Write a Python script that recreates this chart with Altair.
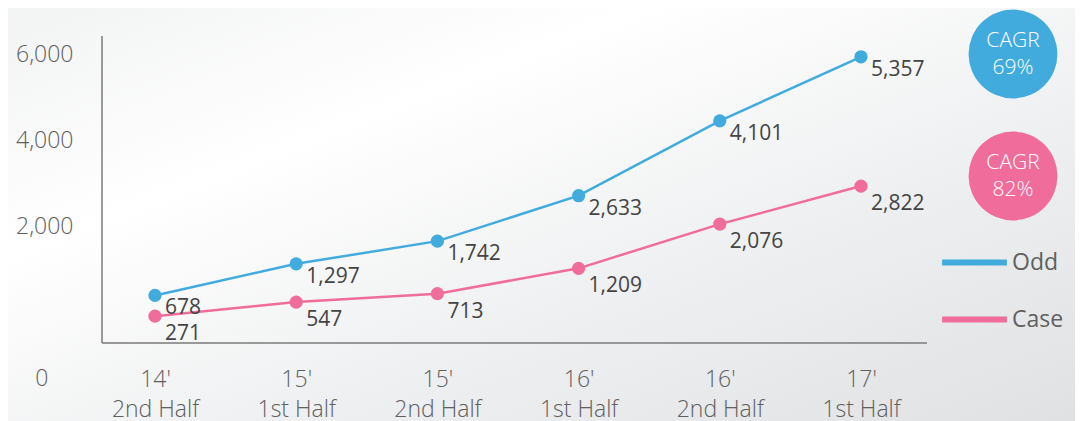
import altair as alt
import pandas as pd

# ---- data ----
periods = ["14'|2nd Half", "15'|1st Half", "15'|2nd Half", "16'|1st Half", "16'|2nd Half", "17'|1st Half"]
odd = [678, 1297, 1742, 2633, 4101, 5357]
case = [271, 547, 713, 1209, 2076, 2822]
series_names = ["Odd", "Case"]
series_colors = ["#42abdd", "#f06c9a"]
cagr_text = ["69%", "82%"]
y_ticks = [0, 2000, 4000, 6000]

rows = []
for s, vals in zip(series_names, [odd, case]):
    for p, v in zip(periods, vals):
        rows.append({"period": p, "series": s, "value": v})
df = pd.DataFrame(rows)

# ---- layout ----
W, H = 825, 319
PAD_L, PAD_T = 94, 16
TOTAL_W, TOTAL_H = 1067, 413
FONT = "Open Sans"
AXIS_GRAY = "#7a7a7a"
LABEL_GRAY = "#606060"

xenc = alt.X(
    "period:N",
    sort=periods,
    scale=alt.Scale(type="point", range=[53, 759], padding=0),
    axis=alt.Axis(
        title=None,
        labelExpr="split(datum.label, '|')",
        ticks=False,
        grid=False,
        domain=False,
        labelFontSize=23,
        labelFontWeight=300,
        labelColor=LABEL_GRAY,
        labelPadding=25,
        labelLineHeight=30,
        labelAngle=0,
        zindex=2,
    ),
)

yenc = alt.Y(
    "value:Q",
    scale=alt.Scale(domain=[-255, 6000], nice=False, zero=False),
    axis=alt.Axis(
        title=None,
        values=y_ticks,
        labelExpr="format(datum.value, ',')",
        domain=False,
        ticks=False,
        grid=False,
        labelFontSize=23,
        labelFontWeight=300,
        labelColor=LABEL_GRAY,
        zindex=2,
        labelPadding={
            "condition": {"test": "datum.value == 0", "value": 54},
            "value": 29,
        },
        labelOffset={
            "condition": [
                {"test": "datum.value == 6000", "value": 30},
                {"test": "datum.value == 4000", "value": 15},
                {"test": "datum.value == 0", "value": 49},
            ],
            "value": -1,
        },
    ),
)

color = alt.Color(
    "series:N",
    sort=series_names,
    scale=alt.Scale(domain=series_names, range=series_colors),
    legend=alt.Legend(
        title=None,
        orient="none",
        legendX=837,
        legendY=203,
        symbolType="stroke",
        symbolSize=4200,
        symbolStrokeWidth=6,
        labelFontSize=23,
        labelColor=LABEL_GRAY,
        labelOffset=2,
        labelExpr="datum.label == 'Odd' ? '\u00a0\u00a0\u00a0Odd' : datum.label",
        rowPadding=9,
        padding=0,
    ),
)

base = alt.Chart(df)

bg = alt.Chart(pd.DataFrame({"k": [0]})).mark_rect(
    fill=alt.Gradient(
        gradient="linear",
        stops=[
            alt.GradientStop(color="#f2f3f3", offset=0),
            alt.GradientStop(color="#ffffff", offset=0.3),
            alt.GradientStop(color="#f0f1f2", offset=0.6),
            alt.GradientStop(color="#dfe1e3", offset=1),
        ],
        x1=0, y1=0, x2=1, y2=1,
    )
).encode(
    x=alt.value(-PAD_L), x2=alt.value(TOTAL_W - PAD_L),
    y=alt.value(-PAD_T), y2=alt.value(TOTAL_H - PAD_T),
)

one = pd.DataFrame({"k": [0]})
yline = alt.Chart(one).mark_rule(color=AXIS_GRAY, strokeWidth=1.5).encode(
    x=alt.value(0), y=alt.value(12), y2=alt.value(H)
)
xline = alt.Chart(one).mark_rule(color=AXIS_GRAY, strokeWidth=1.5).encode(
    x=alt.value(0), x2=alt.value(W), y=alt.value(H)
)

lines = base.mark_line(strokeWidth=2.5).encode(x=xenc, y=yenc, color=color)
pts = base.mark_circle(size=175, opacity=1).encode(x=xenc, y=yenc, color=color)

layers = [bg, yline, xline, lines, pts]

label_dy = {"Odd": 13, "Case": 18}
for s in series_names:
    layers.append(
        base.transform_filter(alt.datum.series == s).mark_text(
            align="left", baseline="middle", dx=10, dy=label_dy[s], fontSize=21, color="#444444"
        ).encode(x=xenc, y=yenc, text=alt.Text("value:Q", format=","))
    )

circle_y = [30, 152]
for i in range(len(series_names)):
    cdf = pd.DataFrame({"t": ["CAGR\n" + cagr_text[i]]})
    layers.append(
        alt.Chart(cdf).mark_circle(size=7900, opacity=1, color=series_colors[i]).encode(
            x=alt.value(911), y=alt.value(circle_y[i])
        )
    )
    layers.append(
        alt.Chart(cdf).mark_text(
            lineBreak="\n", fontSize=21, fontWeight=300, color="white",
            lineHeight=27, baseline="middle", align="center", dy=-13,
        ).encode(x=alt.value(911), y=alt.value(circle_y[i]), text="t:N")
    )

chart = alt.layer(*layers).properties(
    width=W, height=H,
    autosize=alt.AutoSizeParams(type="none"),
    padding={"left": PAD_L, "top": PAD_T, "right": TOTAL_W - PAD_L - W, "bottom": TOTAL_H - PAD_T - H},
    background="#f1f2f3",
).configure_view(stroke=None).configure(font=FONT)

chart.save("out.html", embed_options={"renderer": "svg", "actions": False})
